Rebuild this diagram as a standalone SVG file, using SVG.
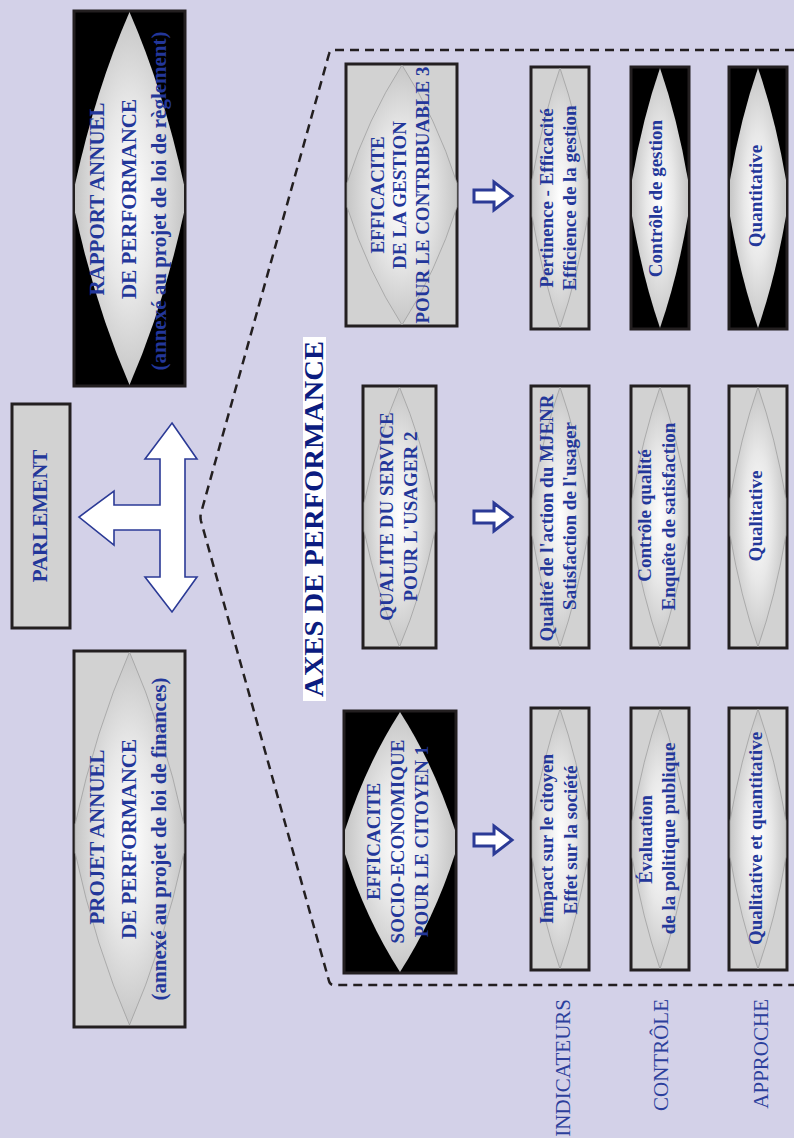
<svg xmlns="http://www.w3.org/2000/svg" xmlns:xlink="http://www.w3.org/1999/xlink" width="794" height="1138" viewBox="0 0 794 1138">
<style>
.box{stroke:#231f20;stroke-width:3}
.g{fill:#d2d2d2}
.k{fill:#000}
.dg{fill:url(#rg);stroke:#9a9a9a;stroke-width:0.7}
.dk{fill:url(#rg)}
.t{font-family:"Liberation Serif","Times New Roman",serif;font-weight:bold;fill:#23379a;font-size:19px;text-anchor:middle}
.big{font-size:21px}
.lab{font-family:"Liberation Serif","Times New Roman",serif;font-size:21px;fill:#2c3f9c;text-anchor:end}
.axes{font-family:"Liberation Serif","Times New Roman",serif;font-weight:bold;font-size:27px;fill:#0b1c80;text-anchor:middle}
.ar{fill:#fff;stroke:#2b3a96;stroke-linejoin:miter}
</style>
<defs>
<radialGradient id="rg" cx="0.5" cy="0.5" r="0.5">
<stop offset="0" stop-color="#ffffff"/>
<stop offset="0.5" stop-color="#e8e8e8"/>
<stop offset="1" stop-color="#c6c6c6"/>
</radialGradient>
<path id="d60" d="M30,2 Q47.4,52.4 58,114 L58,150 Q47.4,211.6 30,262 Q12.6,211.6 2,150 L2,114 Q12.6,52.4 30,2Z"/>
<path id="d114" d="M57,2 Q91.1,55.1 112,120 L112,144 Q91.1,208.9 57,262 Q22.9,208.9 2,144 L2,120 Q22.9,55.1 57,2Z"/>
<path id="d75" d="M37.5,2 Q59.5,54.2 73,118 L73,146 Q59.5,209.8 37.5,262 Q15.5,209.8 2,146 L2,118 Q15.5,54.2 37.5,2Z"/>
<path id="d113" d="M56.5,2 Q90.3,79.6 111,174.5 L111,202.5 Q90.3,297.4 56.5,375 Q22.7,297.4 2,202.5 L2,174.5 Q22.7,79.6 56.5,2Z"/>
</defs>
<rect x="0" y="0" width="794" height="1138" fill="#d3d1e8"/>

<g id="connectors">
<path d="M794,50 L334,50 Q330,50 329,54 L201,513 Q200,517 201,521 L329,981 Q330,985 334,985 L794,985" fill="none" stroke="#231f20" stroke-width="2.5" stroke-dasharray="9 6"/>
<polygon class="ar" stroke-width="1.6" points="172,423 197,459 185,459 185,577 197,577 172,612 145,577 160,577 160,530 114,530 114,545 79,517 114,491 114,505 160,505 160,459 145,459"/>
<polygon class="ar" stroke-width="3" points="474,190 494,190 494,182 512,196 494,210 494,202 474,202"/>
<polygon class="ar" stroke-width="3" points="474,511 494,511 494,503 512,517 494,531 494,523 474,523"/>
<polygon class="ar" stroke-width="3" points="474,834 494,834 494,826 512,840 494,854 494,846 474,846"/>
</g>

<g id="n-rapport">
<rect class="box k" x="74" y="11" width="111" height="375"/>
<use href="#d113" x="73" y="10" class="dk"/>
<text class="t big" transform="translate(104,199) rotate(-90)">RAPPORT ANNUEL</text>
<text class="t big" transform="translate(136,199) rotate(-90)">DE PERFORMANCE</text>
<text class="t big" transform="translate(166,201) rotate(-90)">(annexé au projet de loi de règlement)</text>
</g>

<g id="n-projet">
<rect class="box g" x="74" y="651" width="111" height="376"/>
<use href="#d113" x="73" y="650" class="dg"/>
<text class="t big" transform="translate(104,837) rotate(-90)">PROJET ANNUEL</text>
<text class="t big" transform="translate(136,839) rotate(-90)">DE PERFORMANCE</text>
<text class="t big" transform="translate(166,839) rotate(-90)">(annexé au projet de loi de finances)</text>
</g>

<g id="n-parlement">
<rect class="box g" x="12" y="404" width="58" height="224"/>
<text class="t big" transform="translate(47,516) rotate(-90)">PARLEMENT</text>
</g>

<g id="n-axes">
<rect x="303" y="337" width="23" height="364" fill="#ffffff"/>
<text class="axes" transform="translate(323,519) rotate(-90)" textLength="356" lengthAdjust="spacingAndGlyphs">AXES DE PERFORMANCE</text>
</g>

<g id="n-axe3">
<rect class="box g" x="346" y="64" width="111" height="262"/>
<use href="#d114" x="345" y="63" class="dg"/>
<text class="t" transform="translate(384,195) rotate(-90)">EFFICACITE</text>
<text class="t" transform="translate(406,195) rotate(-90)">DE LA GESTION</text>
<text class="t" transform="translate(429,195) rotate(-90)">POUR LE CONTRIBUABLE 3</text>
</g>

<g id="n-axe2">
<rect class="box g" x="363" y="386" width="73" height="262"/>
<use href="#d75" x="362" y="385" class="dg"/>
<text class="t" transform="translate(393,516.5) rotate(-90)">QUALITE DU SERVICE</text>
<text class="t" transform="translate(417,516.5) rotate(-90)">POUR L'USAGER 2</text>
</g>

<g id="n-axe1">
<rect class="box k" x="344" y="711" width="112" height="262"/>
<use href="#d114" x="343" y="710" class="dk"/>
<text class="t" transform="translate(380,841.5) rotate(-90)">EFFICACITE</text>
<text class="t" transform="translate(404,841.5) rotate(-90)">SOCIO-ECONOMIQUE</text>
<text class="t" transform="translate(428,841.5) rotate(-90)">POUR LE CITOYEN 1</text>
</g>

<g id="n-ind3">
<rect class="box g" x="531" y="67" width="58" height="262"/>
<use href="#d60" x="530" y="66" class="dg"/>
<text class="t" transform="translate(553,198) rotate(-90)">Pertinence - Efficacité</text>
<text class="t" transform="translate(576,198) rotate(-90)">Efficience de la gestion</text>
</g>
<g id="n-ctrl3">
<rect class="box k" x="631" y="67" width="58" height="262"/>
<use href="#d60" x="630" y="66" class="dk"/>
<text class="t" transform="translate(662,198.5) rotate(-90)">Contrôle de gestion</text>
</g>
<g id="n-app3">
<rect class="box k" x="729" y="67" width="58" height="262"/>
<use href="#d60" x="728" y="66" class="dk"/>
<text class="t" transform="translate(762,196) rotate(-90)">Quantitative</text>
</g>

<g id="n-ind2">
<rect class="box g" x="531" y="386" width="58" height="262"/>
<use href="#d60" x="530" y="385" class="dg"/>
<text class="t" transform="translate(553,518) rotate(-90)">Qualité de l'action du MJENR</text>
<text class="t" transform="translate(576,516) rotate(-90)">Satisfaction de l'usager</text>
</g>
<g id="n-ctrl2">
<rect class="box g" x="631" y="386" width="58" height="262"/>
<use href="#d60" x="630" y="385" class="dg"/>
<text class="t" transform="translate(651,515.5) rotate(-90)">Contrôle qualité</text>
<text class="t" transform="translate(675,516.5) rotate(-90)">Enquête de satisfaction</text>
</g>
<g id="n-app2">
<rect class="box g" x="729" y="386" width="58" height="262"/>
<use href="#d60" x="728" y="385" class="dg"/>
<text class="t" transform="translate(762,516) rotate(-90)">Qualitative</text>
</g>

<g id="n-ind1">
<rect class="box g" x="531" y="708" width="58" height="262"/>
<use href="#d60" x="530" y="707" class="dg"/>
<text class="t" transform="translate(553,839) rotate(-90)">Impact sur le citoyen</text>
<text class="t" transform="translate(577,840) rotate(-90)">Effet sur la société</text>
</g>
<g id="n-ctrl1">
<rect class="box g" x="631" y="708" width="58" height="262"/>
<use href="#d60" x="630" y="707" class="dg"/>
<text class="t" transform="translate(652,839.5) rotate(-90)">Évaluation</text>
<text class="t" transform="translate(675,838.5) rotate(-90)">de la politique publique</text>
</g>
<g id="n-app1">
<rect class="box g" x="729" y="708" width="58" height="262"/>
<use href="#d60" x="728" y="707" class="dg"/>
<text class="t" transform="translate(762,838.5) rotate(-90)">Qualitative et quantitative</text>
</g>

<g id="n-labels">
<text class="lab" transform="translate(570,999) rotate(-90)">INDICATEURS</text>
<text class="lab" transform="translate(668,999) rotate(-90)">CONTRÔLE</text>
<text class="lab" transform="translate(768,999) rotate(-90)">APPROCHE</text>
</g>
</svg>
